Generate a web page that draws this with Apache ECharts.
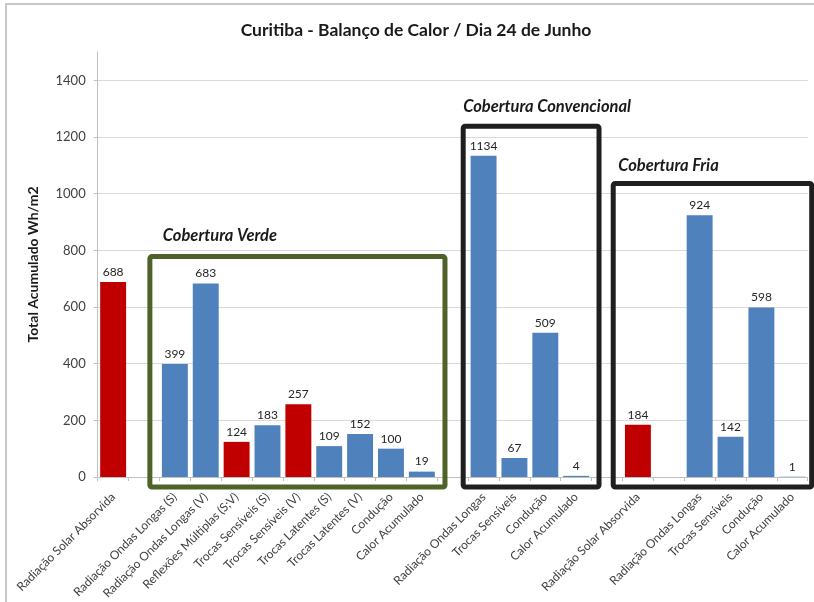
<!DOCTYPE html>
<html>
<head>
<meta charset="utf-8">
<script src="https://cdn.jsdelivr.net/npm/echarts@6/dist/echarts.min.js"></script>
<style>
  html, body { margin: 0; padding: 0; background: #ffffff; }
  #chart { width: 814px; height: 602px; }
</style>
</head>
<body>
<div id="chart"></div>
<script>
// ---- Data ----
const categories = [
  'Radiação Solar Absorvida', '',
  'Radiação Ondas Longas (S)', 'Radiação Ondas Longas (V)', 'Reflexões Múltiplas (S;V)',
  'Trocas Sensíveis (S)', 'Trocas Sensíveis (V)', 'Trocas Latentes (S)', 'Trocas Latentes (V)',
  'Condução', 'Calor Acumulado', '',
  'Radiação Ondas Longas', 'Trocas Sensíveis', 'Condução', 'Calor Acumulado', '',
  'Radiação Solar Absorvida', '',
  'Radiação Ondas Longas', 'Trocas Sensíveis', 'Condução', 'Calor Acumulado'
];
const values = [
  688, null,
  399, 683, 124, 183, 257, 109, 152, 100, 19, null,
  1134, 67, 509, 4, null,
  184, null, 924, 142, 598, 1
];
// indices of bars that are gains (drawn red)
const gainIndices = [0, 4, 6, 17];
const yTicks = [0, 200, 400, 600, 800, 1000, 1200, 1400];

// group annotations: slot range (in category units from left edge), top value
const groups = [
  { name: 'Cobertura Verde',        from: 1.69,  to: 11.25, top: 778 },
  { name: 'Cobertura Convencional', from: 11.84, to: 16.24, top: 1238 },
  { name: 'Cobertura Fria',         from: 16.70, to: 23.13, top: 1036 }
];
const groupStyles = [
  { color: '#4f6228', labelDx: 13, labelDy: -21 },
  { color: '#1f1f1f', labelDx: 0,  labelDy: -20 },
  { color: '#1f1f1f', labelDx: 5,  labelDy: -18 }
];

const FONT = 'Lato, "Open Sans", sans-serif';
const RED = '#c00000', BLUE = '#4f81bd';

const chart = echarts.init(document.getElementById('chart'), null, { renderer: 'canvas' });

const option = {
  backgroundColor: '#ffffff',
  animation: false,
  title: {
    text: 'Curitiba - Balanço de Calor / Dia 24 de Junho',
    left: 411, top: 16, textAlign: 'center',
    textStyle: { fontFamily: FONT, fontSize: 17.5, fontWeight: 'bold', color: '#1a1a1a' }
  },
  grid: { left: 97.7, right: 6.3, top: 52, bottom: 125, containLabel: false },
  xAxis: {
    type: 'category',
    data: categories,
    axisLine: { show: true, lineStyle: { color: '#bfbfbf', width: 1 } },
    axisTick: { show: true, length: 4, lineStyle: { color: '#bfbfbf' } },
    axisLabel: {
      interval: 0, rotate: 45, margin: 18,
      fontFamily: FONT, fontSize: 12, color: '#404040'
    },
    splitLine: { show: false }
  },
  yAxis: {
    type: 'value',
    min: 0, max: 1500, interval: 200,
    name: 'Total Acumulado Wh/m2',
    nameLocation: 'middle', nameGap: 57, nameRotate: 90,
    nameTextStyle: { fontFamily: FONT, fontSize: 14, fontWeight: 'bold', color: '#1a1a1a' },
    axisLine: { show: true, lineStyle: { color: '#bfbfbf', width: 1 } },
    axisTick: { show: true, length: 4, lineStyle: { color: '#bfbfbf' } },
    axisLabel: {
      margin: 12, fontFamily: FONT, fontSize: 13, color: '#404040',
      showMaxLabel: false,
      formatter: function (v) { return yTicks.indexOf(v) >= 0 ? String(v) : ''; }
    },
    splitLine: { show: true, showMaxLine: false, lineStyle: { color: '#d9d9d9', width: 1 } }
  },
  series: [{
    type: 'bar',
    barCategoryGap: '16%',
    data: values.map(function (v, i) {
      return { value: v, itemStyle: { color: gainIndices.indexOf(i) >= 0 ? RED : BLUE } };
    }),
    label: {
      show: true, position: 'top', distance: 4,
      fontFamily: FONT, fontSize: 12, color: '#262626',
      formatter: function (p) { return p.value == null ? '' : String(p.value); }
    }
  }]
};
chart.setOption(option);

// ---- Annotations derived from the chart's own scales ----
function drawAnnotations() {
  const x0 = chart.convertToPixel({ xAxisIndex: 0 }, 0);
  const x1 = chart.convertToPixel({ xAxisIndex: 0 }, 1);
  const w = x1 - x0;
  const left = x0 - w / 2;
  const yZero = chart.convertToPixel({ yAxisIndex: 0 }, 0);
  const elements = [
    { type: 'rect', shape: { x: 6, y: 4, width: 830, height: 620 }, silent: true,
      style: { fill: null, stroke: '#c8c8c8', lineWidth: 2 }, z: 0 }
  ];
  groups.forEach(function (g, i) {
    const s = groupStyles[i];
    const xa = left + g.from * w, xb = left + g.to * w;
    const yt = chart.convertToPixel({ yAxisIndex: 0 }, g.top);
    const yb = yZero + 10;
    elements.push({
      type: 'rect', silent: true, z: 100,
      shape: { x: xa, y: yt, width: xb - xa, height: yb - yt, r: 2 },
      style: { fill: null, stroke: s.color, lineWidth: 5 }
    });
    elements.push({
      type: 'text', silent: true, z: 100,
      x: xa + s.labelDx, y: yt + s.labelDy,
      style: {
        text: g.name, fill: '#1a1a1a',
        font: 'italic bold 16.5px ' + FONT,
        textAlign: 'left', textVerticalAlign: 'middle'
      }
    });
  });
  chart.setOption({ graphic: { elements: elements } });
}
drawAnnotations();
</script>
</body>
</html>
